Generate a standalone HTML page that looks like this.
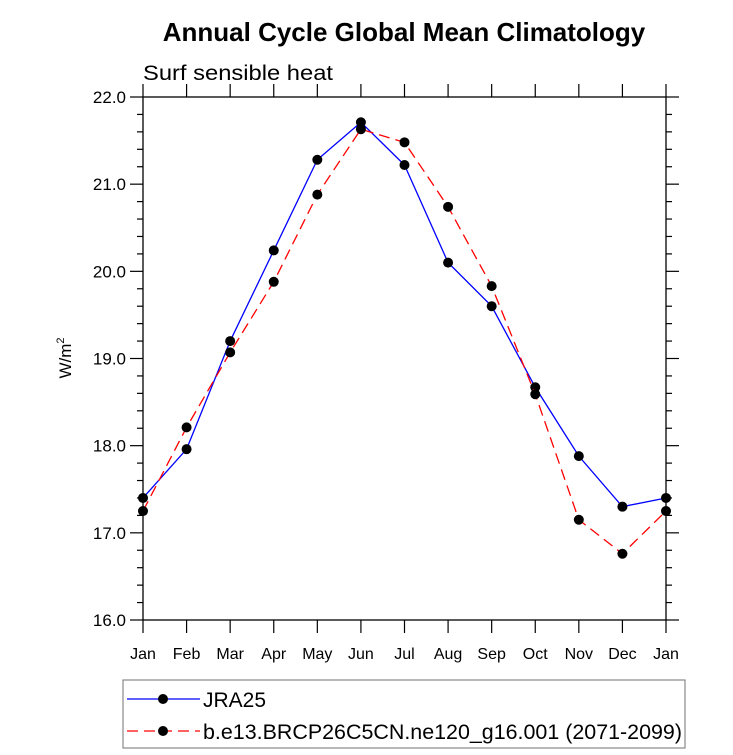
<!DOCTYPE html>
<html><head><meta charset="utf-8"><style>
body{margin:0;background:#fff}
svg{display:block;font-family:"Liberation Sans",sans-serif}
</style></head><body>
<svg width="733" height="755">
<text x="404" y="41" font-size="26" font-weight="bold" text-anchor="middle">Annual Cycle Global Mean Climatology</text>
<text x="143" y="80" font-size="21" textLength="190" lengthAdjust="spacingAndGlyphs">Surf sensible heat</text>
<text transform="translate(71,358) rotate(-90)" font-size="17" text-anchor="middle">W/m<tspan dy="-7" font-size="11">2</tspan></text>
<g id="axes"></g>
<g id="series"></g>
<rect x="123" y="680" width="562" height="68" fill="none" stroke="#888" stroke-width="1.2"/>
<g>
<line x1="127" y1="699" x2="200" y2="699" stroke="#00f" stroke-width="1.2"/>
<circle cx="163" cy="699" r="5" fill="#000"/>
<text x="203" y="707" font-size="21">JRA25</text></g>
<g>
<line x1="127" y1="731" x2="200" y2="731" stroke="#f00" stroke-width="1.2" stroke-dasharray="11,6"/>
<circle cx="163" cy="731" r="5" fill="#000"/>
<text x="203" y="739" font-size="21" textLength="479" lengthAdjust="spacingAndGlyphs">b.e13.BRCP26C5CN.ne120_g16.001 (2071-2099)</text></g>
</svg>
<script>
const months=["Jan","Feb","Mar","Apr","May","Jun","Jul","Aug","Sep","Oct","Nov","Dec","Jan"];
const jra25=[17.40,17.96,19.20,20.24,21.28,21.71,21.22,20.10,19.60,18.67,17.88,17.30,17.40];
const caseRun=[17.25,18.21,19.07,19.88,20.88,21.63,21.48,20.74,19.83,18.59,17.15,16.76,17.25];
const yTicks=["16.0","17.0","18.0","19.0","20.0","21.0","22.0"];
const L=143,R=666,T=97,B=620,yMin=16,yMax=22;
const xs=i=>L+(R-L)*i/(months.length-1);
const ys=v=>B-(B-T)*(v-yMin)/(yMax-yMin);
const NS="http://www.w3.org/2000/svg";
const ax=document.getElementById('axes'),se=document.getElementById('series');
function mk(tag,attrs,parent){const e=document.createElementNS(NS,tag);for(const k in attrs)e.setAttribute(k,attrs[k]);parent.appendChild(e);return e;}
const frame=mk('rect',{x:L,y:T,width:R-L,height:B-T,fill:'none',stroke:'#000','stroke-width':1.3},ax);


months.forEach((m,i)=>{const x=xs(i);
mk('line',{x1:x,y1:B,x2:x,y2:B+13,stroke:'#000','stroke-width':1.2},ax);
mk('line',{x1:x,y1:T,x2:x,y2:T-13,stroke:'#000','stroke-width':1.2},ax);
const t=mk('text',{x:x,y:B+39,'font-size':16,'text-anchor':'middle'},ax);t.textContent=m;

});
for(let v=yMin;v<=yMax+1e-9;v+=0.2){const y=ys(v);const major=Math.abs(v-Math.round(v))<1e-6;const len=major?13:6;
mk('line',{x1:L,y1:y,x2:L-len,y2:y,stroke:'#000','stroke-width':1.2},ax);
mk('line',{x1:R,y1:y,x2:R+len,y2:y,stroke:'#000','stroke-width':1.2},ax);}
yTicks.forEach(s=>{const y=ys(parseFloat(s));const t=mk('text',{x:L-17,y:y+6,'font-size':17,'text-anchor':'end'},ax);t.textContent=s;

});
function draw(arr,color,dash,name){
const pts=arr.map((v,i)=>xs(i)+','+ys(v)).join(' ');
const pl=mk('polyline',{points:pts,fill:'none',stroke:color,'stroke-width':1.3},se);
if(dash)pl.setAttribute('stroke-dasharray',dash);


arr.forEach((v,i)=>{const c=mk('circle',{cx:xs(i),cy:ys(v),r:5,fill:'#000'},se);

});}
draw(jra25,'#00f',null,'jra25');
draw(caseRun,'#f00','11,6','case');
</script>
</body></html>
